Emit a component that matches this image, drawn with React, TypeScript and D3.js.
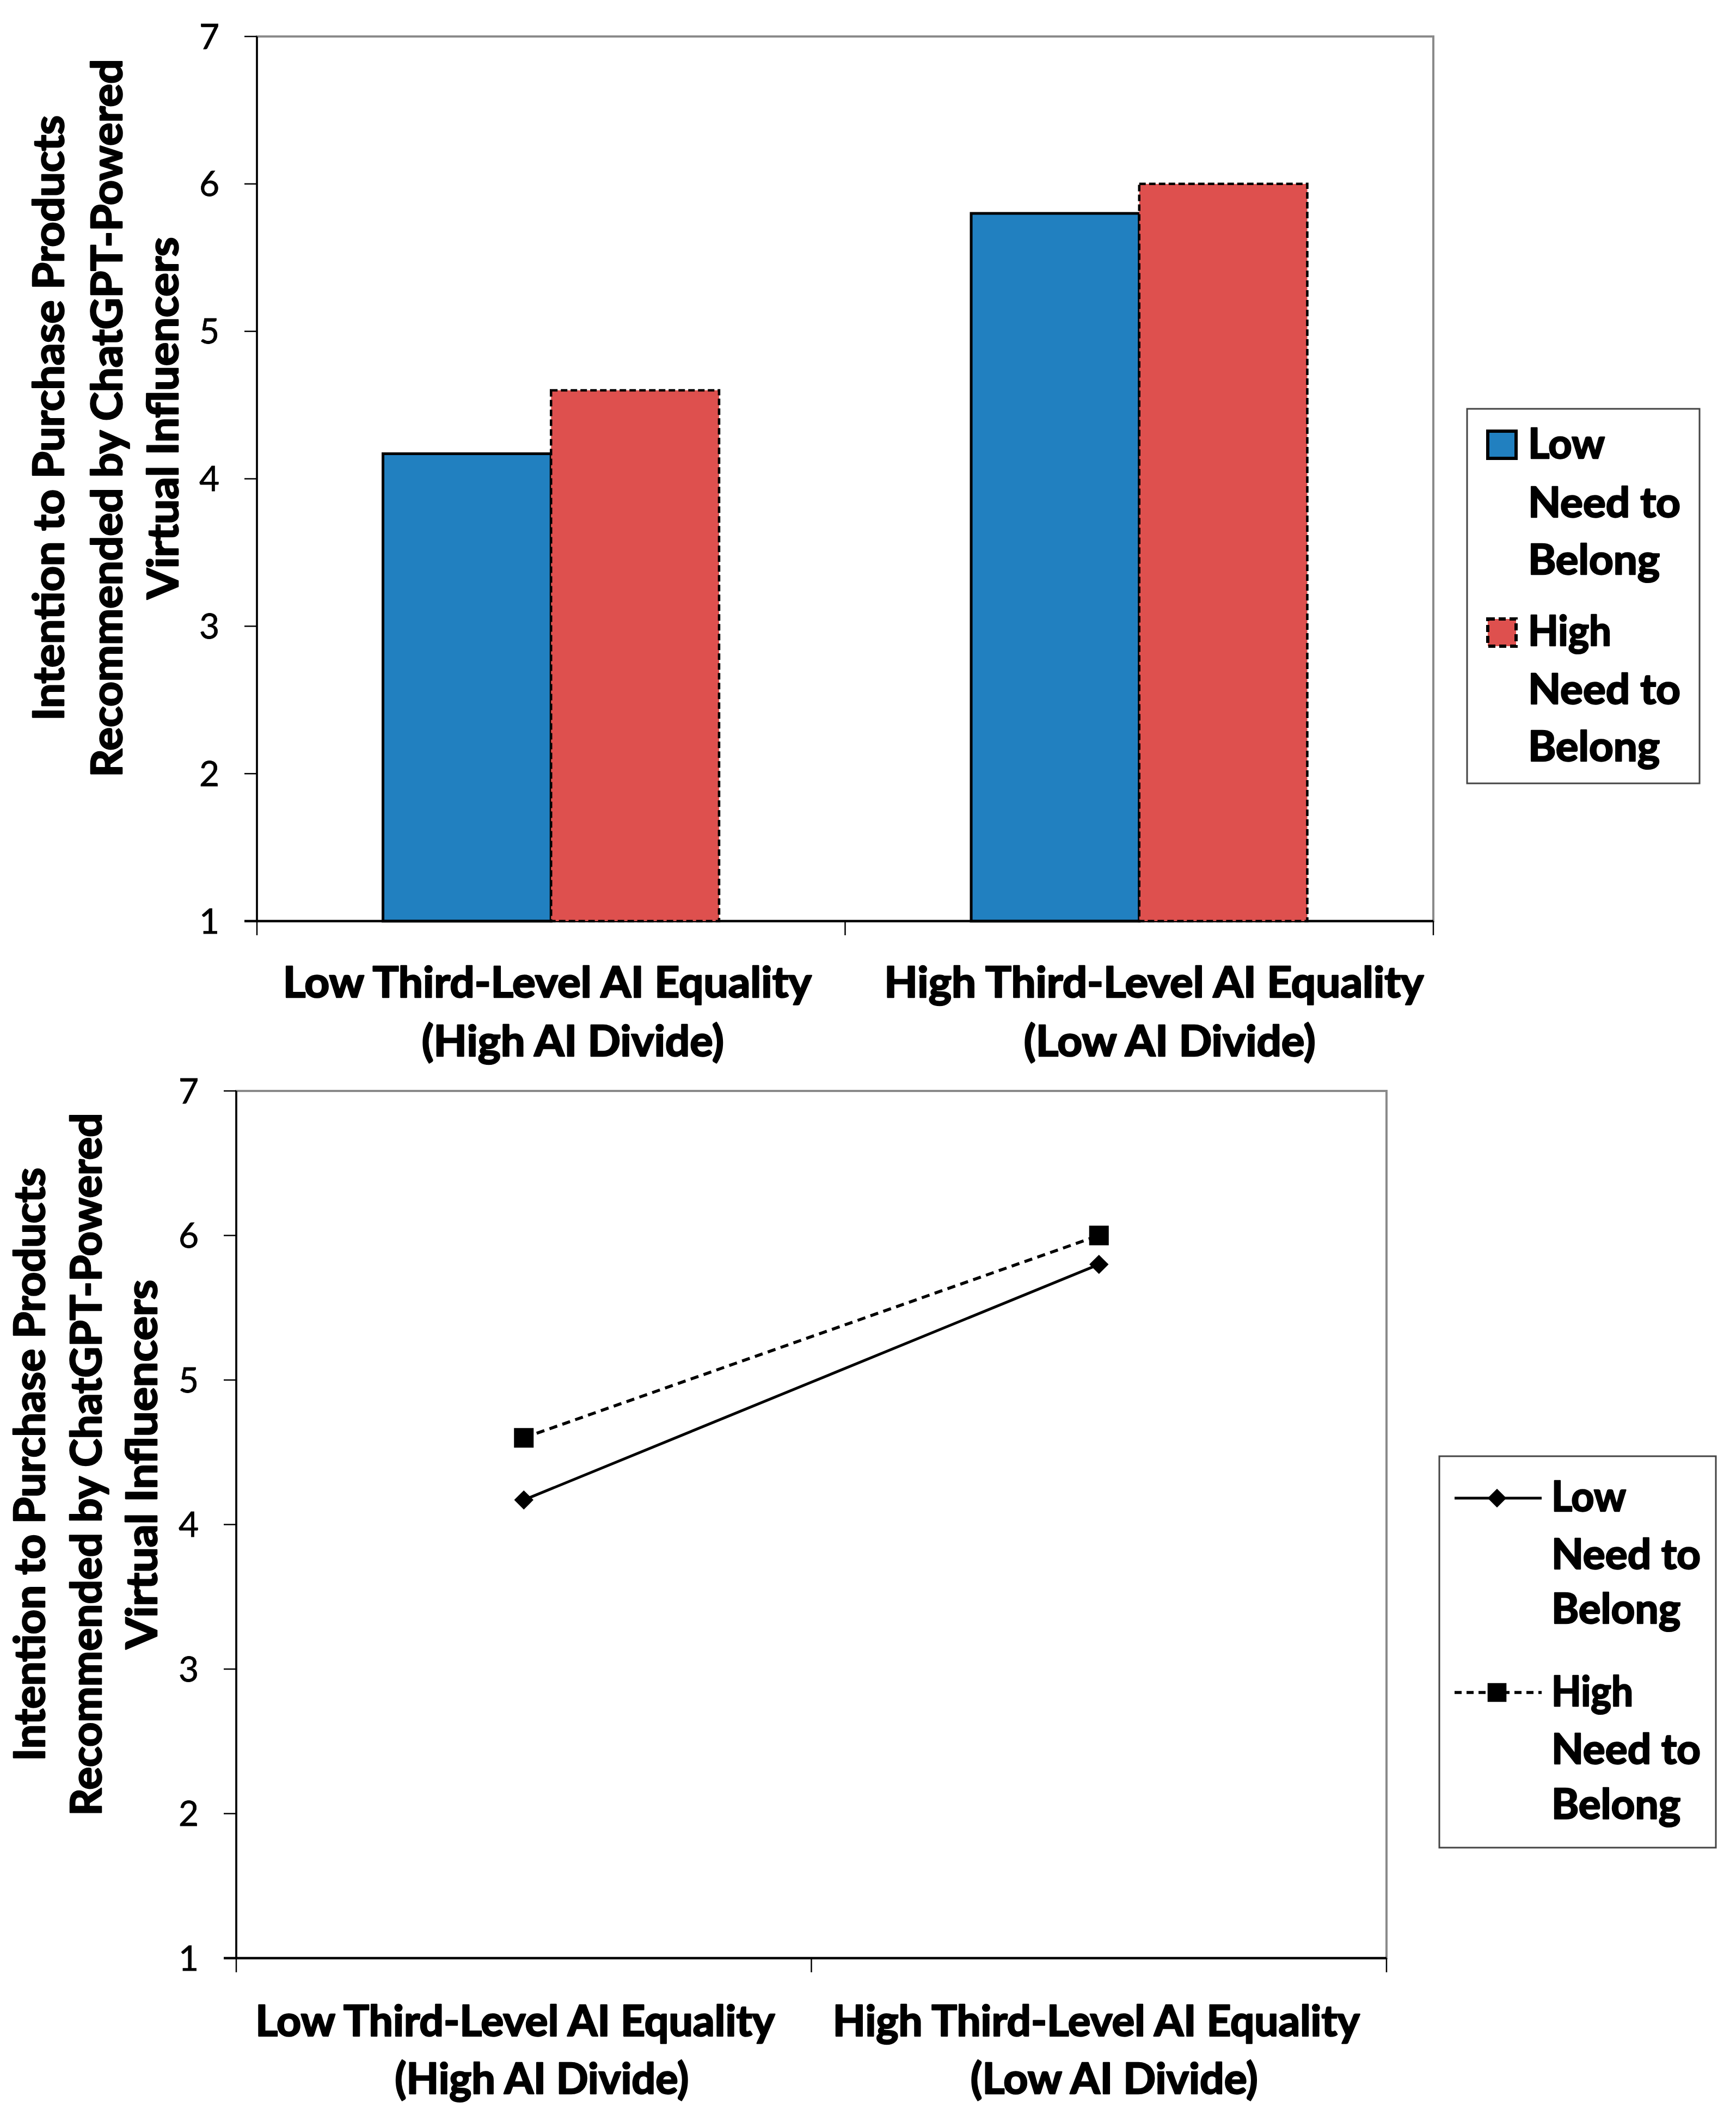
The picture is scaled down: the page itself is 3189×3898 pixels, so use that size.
import React from "react";
import * as d3 from "d3";

// ---------- data ----------
const categoryLine1 = ["Low Third-Level AI Equality", "High Third-Level AI Equality"];
const categoryLine2 = ["(High AI Divide)", "(Low AI Divide)"];
const categoryKeys = ["lowEquality", "highEquality"];
const seriesKeys = ["lowNeed", "highNeed"];
const lowNeedValues = [4.17, 5.8];
const highNeedValues = [4.6, 6.0];
const yTickValues = [1, 2, 3, 4, 5, 6, 7];
const yDomain = [1, 7];
const yTitleLines = [
  "Intention to Purchase Products",
  "Recommended by ChatGPT-Powered",
  "Virtual Influencers",
];
const legendLowLines = ["Low", "Need to", "Belong"];
const legendHighLines = ["High", "Need to", "Belong"];

// ---------- styling / layout ----------
const W = 3189;
const H = 3898;
const FONT = "Lato, 'Open Sans', 'Noto Sans', sans-serif";
const BOLD_WEIGHT = 700;
const BOLD_STROKE = 2.6;
const BLUE = "#2180C0";
const RED = "#DE504E";
const GRAY = "#8a8a8a";
const BOLD_SIZE = 78;
const TICK_SIZE = 64;
const TICK_CAP = 45;

type Layout = {
  left: number; right: number; top: number; bottom: number;
  titleX: number[]; titleCY: number; titleLen: number[];
  labelY: number[]; labelDx: number[][]; labelLen: number[][];
  legendBox: number[]; markX: number; markX0: number; markX1: number; textX: number;
  markY: number[]; rowY: number[][]; rowLen: number[][];
};

const topLayout: Layout = {
  left: 472, right: 2633, top: 67, bottom: 1692,
  titleX: [117, 224, 327], titleCY: 768, titleLen: [1112, 1319, 665],
  labelY: [1832, 1940], labelDx: [[-7, 27], [40, 56]], labelLen: [[971, 991], [555, 536]],
  legendBox: [2695, 751, 3122, 1439], markX: 2759, markX0: 2733, markX1: 2785, textX: 2807,
  markY: [817, 1162],
  rowY: [[842, 950, 1055], [1186, 1293, 1398]],
  rowLen: [[141, 280, 242], [153, 280, 242]],
};

const bottomLayout: Layout = {
  left: 434, right: 2547, top: 2004, bottom: 3597,
  titleX: [82, 186, 288], titleCY: 2690, titleLen: [1090, 1291, 678],
  labelY: [3740, 3846], labelDx: [[-16, -5], [33, 28]], labelLen: [[954, 968], [540, 528]],
  legendBox: [2644, 2675, 3152, 3394], markX: 2750, markX0: 2672, markX1: 2832, textX: 2850,
  markY: [2752, 3109],
  rowY: [[2776, 2882, 2982], [3134, 3240, 3341]],
  rowLen: [[137, 274, 237], [150, 274, 237]],
};

const boldText = {
  fontFamily: FONT,
  fontWeight: BOLD_WEIGHT,
  fill: "#000",
  stroke: "#000",
  strokeWidth: BOLD_STROKE,
  strokeLinejoin: "round" as const,
  lengthAdjust: "spacingAndGlyphs",
};

function Frame({ L, x, y }: { L: Layout; x: d3.ScaleBand<string>; y: d3.ScaleLinear<number, number> }) {
  const edges = [L.left, ...categoryKeys.map((k) => (x(k) as number) + x.bandwidth())];
  return (
    <g>
      <rect x={L.left} y={L.top} width={L.right - L.left} height={L.bottom - L.top} fill="none" stroke={GRAY} strokeWidth={4} />
      {yTickValues.map((t) => (
        <g key={t}>
          <line x1={L.left - 23} x2={L.left} y1={y(t)} y2={y(t)} stroke="#000" strokeWidth={2.5} />
          <text x={L.left - 69} y={y(t) + TICK_CAP / 2} textAnchor="end" fontFamily={FONT} fontSize={TICK_SIZE}
            fill="#000" stroke="#000" strokeWidth={0.8}>
            {t}
          </text>
        </g>
      ))}
      {edges.map((e, i) => (
        <line key={i} x1={e} x2={e} y1={L.bottom} y2={L.bottom + 26} stroke="#000" strokeWidth={2.5} />
      ))}
      <line x1={L.left} x2={L.left} y1={L.top} y2={L.bottom} stroke="#000" strokeWidth={3.5} />
      <line x1={L.left - 23} x2={L.right} y1={L.bottom} y2={L.bottom} stroke="#000" strokeWidth={4.5} />
      {yTitleLines.map((s, i) => (
        <text key={s} transform={`translate(${L.titleX[i]},${L.titleCY}) rotate(-90)`} textAnchor="middle"
          {...boldText} fontSize={BOLD_SIZE} textLength={L.titleLen[i]}>
          {s}
        </text>
      ))}
      {categoryKeys.map((k, ci) => {
        const cx = (x(k) as number) + x.bandwidth() / 2;
        return [categoryLine1[ci], categoryLine2[ci]].map((s, li) => (
          <text key={k + li} x={cx + L.labelDx[li][ci]} y={L.labelY[li]} textAnchor="middle"
            {...boldText} fontSize={BOLD_SIZE} textLength={L.labelLen[li][ci]}>
            {s}
          </text>
        ));
      })}
    </g>
  );
}

function LegendText({ L }: { L: Layout }) {
  const rows = [legendLowLines, legendHighLines];
  return (
    <g>
      <rect x={L.legendBox[0]} y={L.legendBox[1]} width={L.legendBox[2] - L.legendBox[0]} height={L.legendBox[3] - L.legendBox[1]}
        fill="#fff" stroke="#444" strokeWidth={3} />
      {rows.map((lines, ri) =>
        lines.map((s, li) => (
          <text key={ri + "-" + li} x={L.textX} y={L.rowY[ri][li]} {...boldText} fontSize={76}
            textLength={L.rowLen[ri][li]}>
            {s}
          </text>
        ))
      )}
    </g>
  );
}

function BarChart() {
  const L = topLayout;
  const x = d3.scaleBand<string>().domain(categoryKeys).range([L.left, L.right]).padding(0);
  const xs = d3.scaleBand<string>().domain(seriesKeys).range([0, x.bandwidth()]).paddingInner(0).paddingOuter(0.75);
  const y = d3.scaleLinear().domain(yDomain).range([L.bottom, L.top]);
  const series = [
    { key: seriesKeys[0], values: lowNeedValues, fill: BLUE, dash: undefined as string | undefined, sw: 5 },
    { key: seriesKeys[1], values: highNeedValues, fill: RED, dash: "12,6", sw: 4.5 },
  ];
  return (
    <g>
      <Frame L={L} x={x} y={y} />
      {series.map((s) =>
        categoryKeys.map((k, ci) => (
          <rect key={s.key + k} x={(x(k) as number) + (xs(s.key) as number)} y={y(s.values[ci])}
            width={xs.bandwidth()} height={y(yDomain[0]) - y(s.values[ci])}
            fill={s.fill} stroke="#000" strokeWidth={s.sw} strokeDasharray={s.dash} />
        ))
      )}
      <LegendText L={L} />
      {series.map((s, i) => (
        <rect key={s.key} x={L.markX0} y={L.markY[i] - 25} width={L.markX1 - L.markX0} height={50}
          fill={s.fill} stroke="#000" strokeWidth={6} strokeDasharray={i === 0 ? undefined : "13,7"} />
      ))}
    </g>
  );
}

function LineChart() {
  const L = bottomLayout;
  const x = d3.scaleBand<string>().domain(categoryKeys).range([L.left, L.right]).padding(0);
  const y = d3.scaleLinear().domain(yDomain).range([L.bottom, L.top]);
  const cx = (k: string) => (x(k) as number) + x.bandwidth() / 2;
  const line = d3.line<number>().x((_, i) => cx(categoryKeys[i])).y((v) => y(v));
  const diamond = d3.symbol().type(d3.symbolDiamond2).size(800)() as string;
  const square = d3.symbol().type(d3.symbolSquare).size(1300)() as string;
  const series = [
    { key: seriesKeys[0], values: lowNeedValues, dash: undefined as string | undefined, sym: diamond, sw: 5 },
    { key: seriesKeys[1], values: highNeedValues, dash: "15,10", sym: square, sw: 5.5 },
  ];
  return (
    <g>
      <Frame L={L} x={x} y={y} />
      {series.map((s) => (
        <g key={s.key}>
          <path d={line(s.values) as string} fill="none" stroke="#000" strokeWidth={s.sw} strokeDasharray={s.dash} />
          {s.values.map((v, i) => (
            <path key={i} d={s.sym} transform={`translate(${cx(categoryKeys[i])},${y(v)})`} fill="#000" />
          ))}
        </g>
      ))}
      <LegendText L={L} />
      {series.map((s, i) => (
        <g key={s.key}>
          <line x1={L.markX0} x2={L.markX1} y1={L.markY[i]} y2={L.markY[i]} stroke="#000" strokeWidth={s.sw}
            strokeDasharray={i === 0 ? undefined : "13,9"} />
          <path d={i === 0 ? d3.symbol().type(d3.symbolDiamond2).size(760)() as string : d3.symbol().type(d3.symbolSquare).size(1200)() as string}
            transform={`translate(${L.markX},${L.markY[i]})`} fill="#000" />
        </g>
      ))}
    </g>
  );
}

export default function App() {
  return (
    <svg width={W} height={H} viewBox={`0 0 ${W} ${H}`} style={{ position: "absolute", left: 0, top: 0, background: "#fff" }}>
      <rect x={0} y={0} width={W} height={H} fill="#fff" />
      <BarChart />
      <LineChart />
    </svg>
  );
}
